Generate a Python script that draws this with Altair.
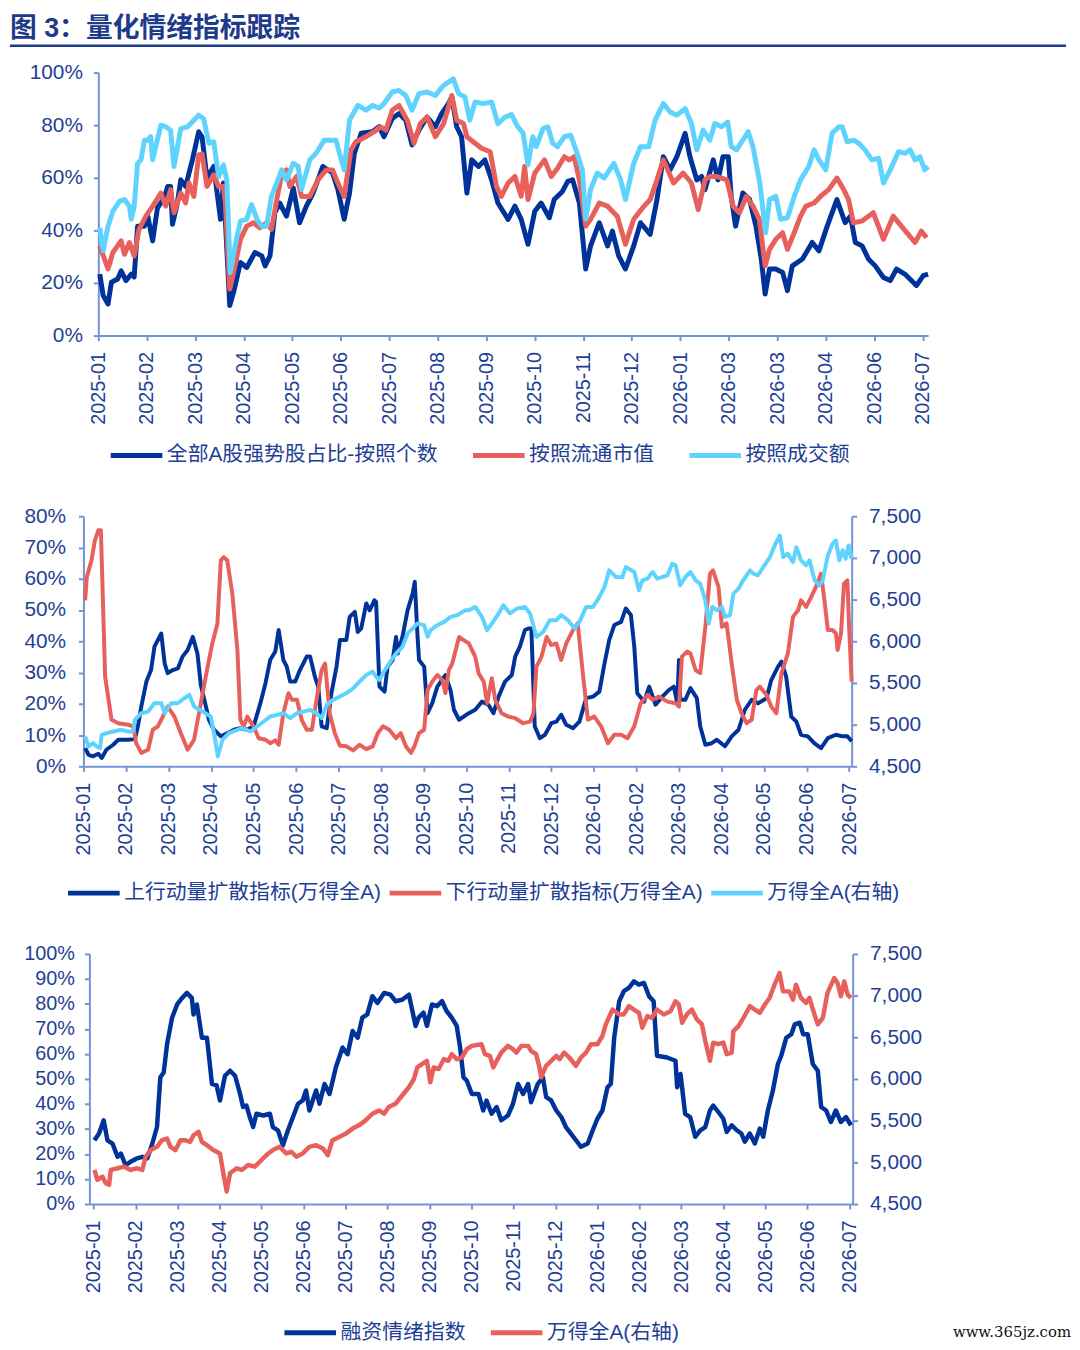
import altair as alt
import pandas as pd

FONT = "Liberation Sans, Noto Sans CJK SC, sans-serif"
NAVY = "#003399"
RED = "#E8605C"
SKY = "#5ED3FD"
AXIS = "#7393D6"
TXT = "#1F3F96"
TITLE_C = "#1E3A8A"

top_labels = ["2025-01", "2025-02", "2025-03", "2025-04", "2025-05", "2025-06",
              "2025-07", "2025-08", "2025-09", "2025-10", "2025-11", "2025-12",
              "2026-01", "2026-03", "2026-03", "2026-04", "2026-06", "2026-07"]
month_labels = ["2025-01", "2025-02", "2025-03", "2025-04", "2025-05", "2025-06",
                "2025-07", "2025-08", "2025-09", "2025-10", "2025-11", "2025-12",
                "2026-01", "2026-02", "2026-03", "2026-04", "2026-05", "2026-06", "2026-07"]

top_names = ["全部A股强势股占比-按照个数", "按照流通市值", "按照成交额"]
mid_names = ["上行动量扩散指标(万得全A)", "下行动量扩散指标(万得全A)", "万得全A(右轴)"]
bot_names = ["融资情绪指数", "万得全A(右轴)"]

# ---- panel 1 : (position in tick units, %) ----
top_count = [(0.03,23.4),(0.10,15.2),(0.20,12.0),(0.27,20.3),(0.40,21.5),(0.47,24.6),(0.57,20.9),(0.68,23.4),(0.74,22.3),
 (0.81,41.6),(0.95,41.6),(1.02,45.4),(1.12,36.0),(1.22,48.6),(1.36,52.3),(1.43,56.7),(1.49,56.7),(1.53,42.3),(1.63,50.4),
 (1.70,59.2),(1.80,56.7),(1.94,66.8),(2.07,77.5),(2.14,75.5),(2.24,59.9),(2.38,64.3),(2.52,44.2),(2.58,58.0),(2.71,11.4),
 (2.79,16.5),(2.93,27.8),(3.06,25.9),(3.23,31.6),(3.37,30.3),(3.44,26.5),(3.54,30.3),(3.64,46.7),(3.74,50.4),(3.88,45.4),
 (4.02,56.1),(4.15,42.9),(4.29,49.2),(4.43,54.2),(4.63,64.3),(4.83,61.8),(4.94,55.5),(5.07,44.2),(5.18,54.2),(5.28,69.3),
 (5.42,76.9),(5.65,77.5),(5.79,79.4),(5.89,75.6),(6.06,82.5),(6.20,84.4),(6.34,81.9),(6.47,72.5),(6.61,78.1),(6.78,83.1),
 (6.95,79.4),(7.08,84.4),(7.22,88.2),(7.29,90.7),(7.39,79.4),(7.49,75.6),(7.60,54.2),(7.70,66.8),(7.84,64.3),(7.97,66.8),
 (8.11,59.2),(8.24,50.4),(8.45,44.2),(8.59,49.2),(8.72,44.2),(8.86,34.7),(9.00,47.3),(9.13,50.4),(9.30,44.8),(9.40,51.7),
 (9.57,54.8),(9.68,58.6),(9.78,59.2),(9.92,50.4),(10.05,25.3),(10.15,34.1),(10.33,42.9),(10.50,34.1),(10.60,39.7),(10.73,30.3),
 (10.87,25.3),(11.04,34.1),(11.18,42.9),(11.38,38.5),(11.52,51.7),(11.65,68.0),(11.79,63.0),(11.93,68.0),(12.10,76.9),(12.20,68.0),
 (12.34,59.2),(12.44,60.5),(12.51,55.5),(12.68,66.8),(12.78,59.2),(12.88,68.0),(12.99,68.0),(13.05,52.9),(13.14,41.6),(13.29,54.2),
 (13.43,51.7),(13.56,41.6),(13.67,29.1),(13.75,15.8),(13.84,25.3),(13.97,25.3),(14.11,24.0),(14.21,17.1),(14.31,26.5),(14.52,29.1),
 (14.72,35.4),(14.86,32.2),(15.03,41.6),(15.23,51.7),(15.40,42.9),(15.51,45.4),(15.61,35.4),(15.75,34.1),(15.88,29.1),(16.02,26.5),
 (16.19,22.1),(16.33,20.9),(16.46,25.3),(16.63,23.4),(16.87,19.0),(17.01,22.8),(17.11,23.4)]

top_float = [(0.03,34.1),(0.20,25.3),(0.30,31.6),(0.47,36.0),(0.54,30.9),(0.64,35.4),(0.74,30.3),(0.84,40.4),(0.98,45.4),
 (1.12,49.2),(1.29,54.2),(1.39,49.2),(1.49,55.5),(1.56,46.7),(1.70,54.2),(1.80,50.4),(1.87,58.0),(1.97,52.9),(2.07,68.7),
 (2.14,69.0),(2.24,56.7),(2.38,61.1),(2.48,56.7),(2.58,56.7),(2.62,50.4),(2.71,17.7),(2.79,24.0),(2.93,36.6),(3.06,41.6),
 (3.20,42.9),(3.33,41.0),(3.47,42.9),(3.57,40.4),(3.68,51.7),(3.78,61.1),(3.88,63.0),(3.95,56.7),(4.09,60.5),(4.19,52.9),
 (4.36,52.9),(4.53,59.2),(4.70,63.0),(4.83,63.0),(4.94,58.0),(5.07,52.9),(5.21,70.6),(5.31,73.7),(5.52,75.6),(5.69,77.5),
 (5.82,79.4),(5.93,78.1),(6.06,85.7),(6.20,87.5),(6.37,81.9),(6.51,73.1),(6.64,80.6),(6.78,83.1),(6.95,75.6),(7.12,80.6),
 (7.29,91.3),(7.39,81.9),(7.53,80.6),(7.60,75.6),(7.73,73.7),(7.90,71.2),(8.08,69.9),(8.21,56.7),(8.31,52.9),(8.45,58.0),
 (8.59,60.5),(8.72,53.0),(8.79,64.3),(8.86,51.7),(9.00,61.8),(9.20,66.8),(9.34,60.5),(9.47,63.6),(9.61,68.0),(9.71,66.8),
 (9.81,68.0),(9.92,59.2),(10.05,41.6),(10.15,44.2),(10.33,50.4),(10.50,49.2),(10.70,45.4),(10.87,34.7),(11.04,44.2),(11.25,49.2),
 (11.38,51.7),(11.52,59.2),(11.65,66.8),(11.86,58.0),(12.06,61.8),(12.23,58.0),(12.37,47.9),(12.51,59.2),(12.61,60.5),(12.75,60.5),
 (12.96,59.2),(13.09,49.2),(13.22,46.7),(13.36,52.9),(13.50,49.2),(13.63,44.2),(13.75,26.5),(13.84,32.8),(13.97,36.6),(14.11,39.1),
 (14.21,32.8),(14.35,39.1),(14.48,45.4),(14.59,49.2),(14.76,50.4),(14.89,52.9),(15.06,55.5),(15.23,59.9),(15.37,55.5),(15.47,51.7),
 (15.57,42.9),(15.74,43.5),(15.98,46.7),(16.19,36.6),(16.39,45.4),(16.56,41.6),(16.73,37.8),(16.84,35.4),(16.97,39.7),(17.08,37.2)]

top_turnover = [(0.03,41.0),(0.10,32.2),(0.20,41.6),(0.30,47.3),(0.44,51.1),(0.54,51.7),(0.64,49.2),(0.68,44.2),(0.74,49.2),
 (0.81,65.5),(0.88,66.8),(0.95,74.3),(1.02,74.3),(1.08,75.6),(1.12,66.8),(1.29,80.0),(1.39,79.4),(1.49,78.1),(1.56,64.3),
 (1.70,78.7),(1.84,79.4),(1.97,81.9),(2.07,83.8),(2.17,82.5),(2.28,73.1),(2.38,73.7),(2.48,60.5),(2.58,64.9),(2.65,59.2),
 (2.72,24.0),(2.82,34.1),(2.93,43.5),(3.06,44.2),(3.16,49.8),(3.27,44.2),(3.37,41.6),(3.47,41.6),(3.57,52.9),(3.68,58.0),
 (3.78,63.0),(3.88,59.2),(4.02,65.5),(4.12,64.3),(4.19,55.5),(4.36,66.8),(4.49,69.3),(4.66,74.3),(4.80,74.3),(4.90,74.3),
 (5.01,66.8),(5.07,63.0),(5.18,81.9),(5.35,87.5),(5.52,85.7),(5.65,87.5),(5.79,86.5),(5.89,88.2),(6.06,92.6),(6.20,93.2),
 (6.34,91.3),(6.47,85.7),(6.61,92.0),(6.78,92.6),(6.95,91.3),(7.12,95.1),(7.32,97.6),(7.43,92.0),(7.56,90.7),(7.66,81.9),
 (7.77,88.8),(7.94,88.2),(8.11,88.8),(8.24,80.5),(8.38,83.0),(8.52,84.0),(8.65,79.4),(8.76,76.9),(8.86,64.9),(8.96,75.6),
 (9.03,71.8),(9.17,78.7),(9.27,79.4),(9.37,73.1),(9.47,71.8),(9.61,75.6),(9.74,76.2),(9.85,70.6),(9.98,63.0),(10.05,44.2),
 (10.15,55.5),(10.29,61.8),(10.43,59.9),(10.63,65.5),(10.77,59.2),(10.87,51.7),(11.04,65.5),(11.18,71.8),(11.35,71.8),(11.48,81.9),
 (11.65,88.2),(11.79,85.0),(11.93,83.8),(12.10,86.3),(12.23,80.6),(12.34,70.6),(12.47,78.1),(12.61,74.3),(12.71,80.6),(12.85,79.4),
 (12.98,81.2),(13.05,71.8),(13.16,70.6),(13.29,74.3),(13.40,77.5),(13.50,71.8),(13.64,58.0),(13.76,39.1),(13.84,51.7),(13.97,52.9),
 (14.07,44.2),(14.21,44.8),(14.35,52.9),(14.48,59.2),(14.65,64.3),(14.76,70.6),(14.86,66.8),(15.00,63.0),(15.13,76.9),(15.27,79.4),
 (15.34,79.4),(15.44,73.7),(15.58,74.3),(15.68,73.1),(15.81,70.6),(15.95,66.8),(16.09,67.4),(16.19,58.0),(16.33,63.0),(16.50,69.9),
 (16.64,69.3),(16.74,70.6),(16.84,66.8),(16.94,68.0),(17.04,63.0),(17.11,64.3)]

# ---- panel 2 ----
mid_up = [(0.04,5.8),(0.12,3.7),(0.23,3.2),(0.35,4.0),(0.43,2.7),(0.54,5.3),(0.70,6.9),(0.82,8.5),(1.05,8.5),(1.21,8.7),
 (1.28,12.8),(1.36,19.1),(1.48,27.1),(1.59,30.8),(1.67,38.3),(1.83,42.5),(1.91,32.9),(1.98,29.8),(2.10,30.8),(2.22,31.3),
 (2.33,35.1),(2.45,37.2),(2.57,41.4),(2.68,36.1),(2.76,26.0),(2.88,19.1),(2.95,14.9),(3.07,11.7),(3.23,9.6),(3.38,10.6),
 (3.54,11.7),(3.69,12.2),(3.85,11.7),(4.00,12.8),(4.16,20.2),(4.28,26.6),(4.39,34.0),(4.51,36.7),(4.59,43.6),(4.70,34.0),
 (4.78,31.9),(4.86,27.1),(4.98,27.1),(5.09,30.8),(5.25,35.1),(5.33,35.1),(5.44,28.7),(5.52,25.5),(5.60,12.8),(5.72,12.2),
 (5.83,23.4),(5.95,31.9),(6.03,40.4),(6.18,40.4),(6.26,47.8),(6.38,49.4),(6.45,43.0),(6.53,44.1),(6.65,52.1),(6.73,49.9),
 (6.84,53.1),(6.88,52.6),(6.96,25.5),(7.08,23.9),(7.15,31.9),(7.27,34.0),(7.35,41.4),(7.39,36.1),(7.50,41.4),(7.62,49.9),
 (7.74,55.3),(7.79,59.0),(7.85,42.5),(7.89,34.0),(8.01,31.9),(8.09,17.0),(8.20,20.2),(8.32,25.5),(8.51,29.2),(8.63,24.4),
 (8.71,18.1),(8.83,14.9),(9.06,17.0),(9.21,18.1),(9.37,20.7),(9.52,19.7),(9.64,17.0),(9.76,22.3),(9.91,27.1),(10.07,29.2),
 (10.15,35.1),(10.26,38.3),(10.38,43.6),(10.46,44.1),(10.53,44.1),(10.61,12.8),(10.73,9.0),(10.85,10.1),(11.00,13.8),(11.12,14.3),
 (11.23,16.5),(11.35,13.3),(11.51,12.2),(11.66,14.3),(11.82,21.8),(11.98,22.3),(12.13,23.9),(12.25,32.9),(12.36,40.4),(12.48,45.2),
 (12.64,46.2),(12.75,50.5),(12.87,48.4),(12.95,38.3),(13.02,23.4),(13.18,20.7),(13.30,25.5),(13.45,19.7),(13.61,22.3),(13.76,24.4),
 (13.88,25.5),(13.96,20.2),(14.00,34.0),(14.03,21.3),(14.15,21.3),(14.27,25.0),(14.42,21.8),(14.50,12.8),(14.62,6.9),(14.77,7.4),
 (14.89,8.5),(15.08,6.4),(15.24,9.6),(15.40,11.7),(15.55,18.1),(15.71,21.3),(15.86,20.2),(16.06,21.8),(16.17,27.6),(16.33,31.9),
 (16.41,33.5),(16.52,28.7),(16.64,15.9),(16.76,14.3),(16.87,10.1),(17.03,9.6),(17.18,7.4),(17.34,5.8),(17.50,9.0),(17.69,10.1),
 (17.85,9.6),(17.96,9.6),(18.06,8.0)]

mid_down = [(0.04,53.1),(0.08,60.6),(0.19,65.9),(0.27,72.3),(0.35,75.5),(0.41,75.5),(0.51,28.7),(0.66,14.9),(0.82,13.8),
 (1.05,13.3),(1.17,12.8),(1.24,7.4),(1.36,4.3),(1.52,5.3),(1.63,11.7),(1.75,12.8),(1.83,14.9),(1.98,19.1),(2.14,15.9),
 (2.29,10.6),(2.45,5.3),(2.60,8.5),(2.76,20.2),(2.92,31.9),(3.03,39.3),(3.15,45.7),(3.23,65.9),(3.30,66.9),(3.38,65.9),
 (3.50,55.3),(3.62,37.2),(3.69,14.9),(3.77,12.8),(3.85,15.9),(4.00,12.8),(4.12,9.0),(4.28,8.5),(4.39,7.4),(4.51,8.3),
 (4.59,6.9),(4.70,17.0),(4.82,23.4),(4.90,21.3),(5.02,21.3),(5.13,14.9),(5.25,11.7),(5.37,11.7),(5.48,21.3),(5.60,30.8),
 (5.68,32.9),(5.79,17.0),(5.91,10.6),(6.03,6.6),(6.18,6.4),(6.34,5.1),(6.49,6.9),(6.65,5.5),(6.80,6.4),(6.92,10.6),
 (7.04,12.8),(7.19,11.7),(7.35,9.0),(7.46,10.6),(7.58,6.4),(7.70,4.3),(7.78,6.4),(7.89,10.6),(8.01,11.7),(8.09,24.4),
 (8.20,27.1),(8.32,29.2),(8.44,27.6),(8.51,23.4),(8.59,30.8),(8.67,32.9),(8.83,41.4),(8.94,40.4),(9.06,39.3),(9.21,35.1),
 (9.29,29.8),(9.41,27.1),(9.49,20.2),(9.60,28.2),(9.68,21.3),(9.83,17.0),(9.99,15.9),(10.15,15.4),(10.34,13.8),(10.50,14.3),
 (10.58,17.0),(10.65,31.9),(10.77,35.1),(10.89,41.4),(11.00,38.8),(11.12,39.3),(11.23,34.0),(11.35,39.3),(11.51,43.6),(11.62,45.7),
 (11.74,29.8),(11.86,14.9),(12.01,15.9),(12.17,12.8),(12.33,7.4),(12.48,10.1),(12.64,10.1),(12.79,9.0),(12.95,12.8),(13.10,20.2),
 (13.26,22.8),(13.38,21.3),(13.53,22.3),(13.73,20.7),(13.92,20.2),(14.00,19.1),(14.07,35.1),(14.19,36.7),(14.27,36.1),(14.39,30.8),
 (14.50,29.8),(14.62,44.6),(14.73,61.6),(14.80,62.7),(14.93,57.4),(15.01,44.6),(15.12,45.7),(15.24,32.9),(15.36,21.3),(15.47,17.0),
 (15.59,13.8),(15.71,14.9),(15.82,24.4),(15.90,25.5),(16.06,22.8),(16.17,19.1),(16.29,17.0),(16.41,29.8),(16.56,36.1),(16.68,47.8),
 (16.80,49.9),(16.87,53.1),(16.99,51.0),(17.11,54.2),(17.22,57.4),(17.34,61.6),(17.42,53.1),(17.50,43.6),(17.61,43.6),(17.69,42.5),
 (17.73,37.2),(17.81,42.5),(17.88,58.4),(17.96,59.5),(18.00,44.6),(18.06,27.1)]

mid_index = [(0.04,4859),(0.12,4739),(0.23,4779),(0.31,4739),(0.39,4719),(0.43,4878),(0.54,4898),(0.70,4918),(0.89,4938),
 (1.05,4918),(1.17,4918),(1.21,5058),(1.36,5137),(1.52,5157),(1.67,5257),(1.83,5257),(1.91,5137),(2.06,5257),(2.22,5257),
 (2.37,5317),(2.49,5357),(2.60,5217),(2.80,5157),(2.99,5098),(3.07,4898),(3.16,4620),(3.27,4819),(3.42,4898),(3.62,4938),
 (3.73,4958),(3.93,4918),(4.08,4978),(4.24,5038),(4.39,5098),(4.55,5118),(4.70,5137),(4.86,5078),(5.02,5137),(5.17,5157),
 (5.33,5177),(5.48,5137),(5.60,5078),(5.72,5237),(5.87,5297),(6.03,5337),(6.18,5377),(6.34,5436),(6.49,5516),(6.65,5596),
 (6.80,5636),(6.88,5576),(6.96,5536),(7.04,5616),(7.19,5735),(7.35,5855),(7.50,5934),(7.62,6094),(7.74,6153),(7.85,6213),
 (8.01,6193),(8.09,6054),(8.16,6133),(8.32,6193),(8.48,6233),(8.63,6293),(8.79,6313),(8.98,6373),(9.06,6373),(9.21,6412),
 (9.37,6293),(9.49,6133),(9.60,6213),(9.76,6333),(9.87,6432),(10.03,6333),(10.19,6392),(10.38,6412),(10.50,6333),(10.65,6054),
 (10.81,6113),(10.96,6253),(11.12,6253),(11.23,6313),(11.39,6253),(11.55,6153),(11.66,6233),(11.82,6412),(11.98,6412),(12.13,6532),
 (12.25,6651),(12.36,6851),(12.52,6771),(12.67,6771),(12.75,6890),(12.95,6831),(13.06,6612),(13.14,6731),(13.26,6751),(13.38,6831),
 (13.49,6751),(13.73,6791),(13.84,6930),(13.92,6910),(14.03,6671),(14.15,6771),(14.27,6831),(14.39,6731),(14.50,6691),(14.62,6492),
 (14.70,6213),(14.78,6412),(14.89,6373),(15.01,6412),(15.08,6293),(15.20,6313),(15.28,6572),(15.40,6631),(15.51,6731),(15.67,6851),
 (15.75,6811),(15.86,6791),(15.98,6890),(16.14,7010),(16.25,7149),(16.37,7269),(16.45,7010),(16.56,7050),(16.68,6950),(16.76,7129),
 (16.87,6970),(16.99,6910),(17.07,6970),(17.19,6731),(17.30,6671),(17.38,6731),(17.50,7030),(17.61,7169),(17.69,7209),(17.77,6970),
 (17.85,7090),(17.92,6990),(17.99,7149),(18.06,6990)]

# ---- panel 3 ----
bot_margin = [(0.02,25.5),(0.13,28.2),(0.24,33.5),(0.33,25.5),(0.45,24.2),(0.57,18.9),(0.65,20.2),(0.76,15.6),(0.88,16.9),
 (1.04,18.3),(1.16,18.9),(1.28,18.3),(1.40,24.2),(1.51,30.8),(1.59,50.7),(1.67,52.6),(1.75,63.9),(1.87,74.5),(1.99,79.8),
 (2.11,82.4),(2.22,84.4),(2.34,82.4),(2.38,75.8),(2.46,79.8),(2.58,66.5),(2.70,66.5),(2.82,48.0),(2.93,47.4),(3.01,41.4),
 (3.13,51.3),(3.25,53.3),(3.37,51.3),(3.49,44.0),(3.56,38.8),(3.64,39.4),(3.72,34.8),(3.80,30.8),(3.88,36.1),(4.04,35.4),
 (4.20,36.1),(4.27,30.8),(4.39,29.5),(4.51,23.5),(4.63,29.5),(4.75,34.8),(4.87,40.1),(4.98,41.4),(5.06,45.4),(5.14,37.4),
 (5.30,45.4),(5.38,40.1),(5.50,48.0),(5.62,44.0),(5.77,54.6),(5.93,62.6),(6.05,59.9),(6.17,69.2),(6.29,66.5),(6.40,74.5),
 (6.52,75.8),(6.64,83.1),(6.76,80.4),(6.92,84.4),(7.07,83.7),(7.19,81.1),(7.35,81.7),(7.51,83.7),(7.67,71.2),(7.74,74.5),
 (7.86,76.5),(7.94,71.2),(8.06,79.8),(8.18,79.1),(8.30,81.1),(8.41,77.1),(8.53,74.5),(8.65,71.2),(8.73,62.6),(8.81,50.7),
 (8.89,49.3),(9.01,44.0),(9.17,44.0),(9.28,37.4),(9.36,41.4),(9.48,36.1),(9.60,38.8),(9.71,33.5),(9.87,35.4),(9.99,40.1),
 (10.11,48.0),(10.23,44.0),(10.35,48.0),(10.42,40.7),(10.58,48.0),(10.70,50.7),(10.78,42.7),(10.90,41.4),(11.02,37.4),(11.14,34.8),
 (11.25,30.8),(11.37,28.2),(11.49,25.5),(11.61,22.9),(11.77,24.2),(11.89,29.5),(12.00,34.1),(12.12,37.4),(12.24,46.7),(12.32,48.0),
 (12.40,66.5),(12.52,81.1),(12.63,85.1),(12.75,86.4),(12.87,89.0),(12.99,87.7),(13.11,88.4),(13.23,83.1),(13.34,81.1),(13.42,59.3),
 (13.66,58.6),(13.86,57.3),(13.90,46.7),(13.98,52.0),(14.09,36.1),(14.21,34.8),(14.33,26.9),(14.45,29.5),(14.57,30.8),(14.68,37.4),
 (14.76,39.4),(14.88,36.8),(15.00,34.1),(15.08,28.8),(15.20,31.5),(15.32,29.5),(15.43,28.2),(15.51,24.9),(15.63,28.2),(15.75,24.2),
 (15.87,30.2),(15.95,26.9),(16.06,37.4),(16.18,45.4),(16.30,56.0),(16.38,59.3),(16.50,66.5),(16.62,67.9),(16.70,71.8),(16.82,72.5),
 (16.90,67.9),(17.01,67.9),(17.13,56.0),(17.25,53.3),(17.33,38.8),(17.45,37.4),(17.56,32.8),(17.68,37.4),(17.80,32.8),(17.92,34.8),
 (18.04,31.5)]

bot_index = [(0.02,4909),(0.09,4790),(0.21,4829),(0.29,4750),(0.37,4730),(0.41,4909),(0.57,4929),(0.73,4948),(0.88,4909),
 (1.04,4929),(1.16,4909),(1.24,5067),(1.36,5147),(1.51,5186),(1.63,5266),(1.75,5286),(1.83,5186),(1.95,5147),(2.07,5266),
 (2.18,5266),(2.30,5246),(2.38,5325),(2.50,5365),(2.58,5246),(2.70,5206),(2.85,5147),(3.01,5107),(3.09,4869),(3.17,4651),
 (3.25,4869),(3.41,4929),(3.53,4909),(3.68,4968),(3.84,4948),(4.00,5028),(4.16,5107),(4.27,5147),(4.43,5186),(4.59,5107),
 (4.71,5127),(4.83,5067),(4.98,5107),(5.14,5186),(5.30,5206),(5.46,5167),(5.58,5087),(5.69,5266),(5.85,5305),(6.01,5345),
 (6.17,5405),(6.32,5444),(6.48,5504),(6.64,5583),(6.80,5623),(6.92,5583),(7.03,5663),(7.19,5702),(7.35,5802),(7.51,5901),
 (7.63,6000),(7.71,6139),(7.82,6178),(7.94,6218),(8.02,5960),(8.10,6139),(8.22,6119),(8.34,6238),(8.45,6218),(8.53,6298),
 (8.65,6238),(8.77,6258),(8.89,6357),(9.01,6397),(9.24,6417),(9.32,6298),(9.44,6278),(9.52,6139),(9.60,6218),(9.71,6317),
 (9.87,6397),(9.99,6357),(10.07,6317),(10.19,6397),(10.35,6397),(10.42,6337),(10.54,6298),(10.62,6139),(10.66,6020),(10.78,6159),
 (10.90,6218),(11.02,6278),(11.10,6238),(11.21,6317),(11.33,6258),(11.49,6159),(11.61,6258),(11.73,6317),(11.85,6417),(12.00,6417),
 (12.12,6516),(12.20,6655),(12.36,6833),(12.52,6774),(12.63,6774),(12.75,6873),(12.87,6833),(12.99,6794),(13.07,6615),(13.19,6754),
 (13.30,6734),(13.42,6833),(13.58,6774),(13.74,6813),(13.86,6932),(13.94,6893),(14.02,6674),(14.13,6774),(14.25,6833),(14.37,6714),
 (14.49,6655),(14.57,6456),(14.68,6218),(14.76,6436),(14.88,6417),(15.00,6436),(15.08,6298),(15.20,6317),(15.24,6575),(15.36,6635),
 (15.48,6734),(15.63,6873),(15.75,6833),(15.87,6794),(15.99,6893),(16.10,6972),(16.22,7131),(16.34,7270),(16.42,7051),(16.57,7051),
 (16.66,6952),(16.73,7131),(16.85,6972),(16.97,6913),(17.05,6972),(17.17,6774),(17.25,6655),(17.37,6734),(17.48,7032),(17.64,7210),
 (17.72,7151),(17.80,6992),(17.88,7171),(17.96,7012),(18.04,6972)]

pct_ticks_top = [0, 20, 40, 60, 80, 100]
pct_ticks_mid = [0, 10, 20, 30, 40, 50, 60, 70, 80]
pct_ticks_bot = [0, 10, 20, 30, 40, 50, 60, 70, 80, 90, 100]
idx_ticks = [4500, 5000, 5500, 6000, 6500, 7000, 7500]


def frame(pairs, name):
    return pd.DataFrame({"t": [p[0] for p in pairs], "v": [p[1] for p in pairs], "s": name})


def x_axis(labels):
    expr = "[" + ",".join("'%s'" % l for l in labels) + "][datum.value]"
    return alt.Axis(values=list(range(len(labels))), labelExpr=expr, labelAngle=270,
                    labelFontSize=20, labelFont=FONT, labelColor=TXT, labelPadding=11,
                    labelOverlap=False, labelFlush=False, domainColor=AXIS, domainWidth=2,
                    tickColor=AXIS, tickWidth=2, tickSize=5, grid=False)


def y_axis(values, orient, pad, offset=0, pct=True, size=21):
    kw = dict(values=values, orient=orient, labelFontSize=size, labelFont=FONT, labelColor=TXT,
              labelPadding=pad, domainColor=AXIS, domainWidth=2, tickColor=AXIS, tickWidth=2,
              tickSize=5, grid=False, offset=offset)
    if pct:
        kw["labelExpr"] = "datum.value + '%'"
    else:
        kw["labelExpr"] = "format(datum.value, ',.0f')"
    return alt.Axis(**kw)


def legend(x, y, pad):
    return alt.Legend(orient="none", legendX=x, legendY=y, direction="horizontal", columns=3,
                      symbolType="stroke", symbolSize=2704, symbolStrokeWidth=5,
                      labelFont=FONT, labelFontSize=21, labelColor=TXT, labelLimit=600,
                      labelOffset=2, columnPadding=pad, padding=0, title=None)


deco = pd.DataFrame({"k": [0]})

# ---------------- panel 1 ----------------
top_df = pd.concat([frame(top_count, top_names[0]), frame(top_float, top_names[1]),
                    frame(top_turnover, top_names[2])])
top_lines = alt.Chart(top_df).mark_line(strokeWidth=5, strokeJoin="round").encode(
    x=alt.X("t:Q", title=None, axis=x_axis(top_labels),
            scale=alt.Scale(domain=[0, 17.11], range=[15, 851], nice=False, zero=False)),
    y=alt.Y("v:Q", title=None, axis=y_axis(pct_ticks_top, "left", 11, offset=-15),
            scale=alt.Scale(domain=[0, 100], nice=False)),
    color=alt.Color("s:N", scale=alt.Scale(domain=top_names, range=[NAVY, RED, SKY]),
                    legend=legend(25, 357, 25)),
)
title_text = alt.Chart(deco).mark_text(
    text="图 3：量化情绪指标跟踪", align="left", baseline="middle", font=FONT,
    fontSize=27, fontWeight="bold", color=TITLE_C).encode(x=alt.value(-74), y=alt.value(-44))
title_rule = alt.Chart(deco).mark_rule(color=TITLE_C, strokeWidth=2.5).encode(
    x=alt.value(-74), x2=alt.value(990), y=alt.value(-27))
top = alt.layer(top_lines, title_text, title_rule).properties(width=851, height=265)

# ---------------- panel 2 ----------------
mid_x = alt.X("t:Q", title=None, axis=x_axis(month_labels),
              scale=alt.Scale(domain=[0, 18.06], range=[0, 774], nice=False, zero=False))
mid_color = alt.Color("s:N", scale=alt.Scale(domain=mid_names, range=[NAVY, RED, SKY]),
                      legend=legend(-18, 351, -2))
mid_left = alt.Chart(pd.concat([frame(mid_up, mid_names[0]), frame(mid_down, mid_names[1])])).mark_line(
    strokeWidth=4, strokeJoin="round").encode(
    x=mid_x,
    y=alt.Y("v:Q", title=None, axis=y_axis(pct_ticks_mid, "left", 13),
            scale=alt.Scale(domain=[0, 80], nice=False)),
    color=mid_color)
mid_right = alt.Chart(frame(mid_index, mid_names[2])).mark_line(strokeWidth=4, strokeJoin="round").encode(
    x=mid_x,
    y=alt.Y("v:Q", title=None, axis=y_axis(idx_ticks, "right", 12, pct=False),
            scale=alt.Scale(domain=[4500, 7500], nice=False, zero=False)),
    color=mid_color)
mid = alt.layer(mid_left, mid_right).resolve_scale(y="independent").properties(width=774, height=252)

# ---------------- panel 3 ----------------
bot_x = alt.X("t:Q", title=None, axis=x_axis(month_labels),
              scale=alt.Scale(domain=[-0.1, 18.08], range=[6, 775], nice=False, zero=False))
bot_color = alt.Color("s:N", scale=alt.Scale(domain=bot_names, range=[NAVY, RED]),
                      legend=legend(200, 353, 15))
bot_left = alt.Chart(frame(bot_margin, bot_names[0])).mark_line(strokeWidth=4.5, strokeJoin="round").encode(
    x=bot_x,
    y=alt.Y("v:Q", title=None, axis=y_axis(pct_ticks_bot, "left", 10, offset=-6, size=20),
            scale=alt.Scale(domain=[0, 100], nice=False)),
    color=bot_color)
bot_right = alt.Chart(frame(bot_index, bot_names[1])).mark_line(strokeWidth=4.5, strokeJoin="round").encode(
    x=bot_x,
    y=alt.Y("v:Q", title=None, axis=y_axis(idx_ticks, "right", 12, pct=False),
            scale=alt.Scale(domain=[4500, 7500], nice=False, zero=False)),
    color=bot_color)
watermark = alt.Chart(deco).mark_text(
    text="www.365jz.com", align="left", baseline="middle", font="DejaVu Serif",
    fontSize=15, color="#111111").encode(x=alt.value(876), y=alt.value(381))
bot = alt.layer(bot_left, bot_right, watermark).resolve_scale(y="independent").properties(width=775, height=252)

chart = alt.vconcat(top, mid, bot, spacing=40).resolve_scale(color="independent").properties(
    padding={"left": 0, "top": 2, "right": 0, "bottom": 0}
).configure_view(strokeWidth=0)

chart.save("out.html", embed_options={"renderer": "svg", "actions": False})
